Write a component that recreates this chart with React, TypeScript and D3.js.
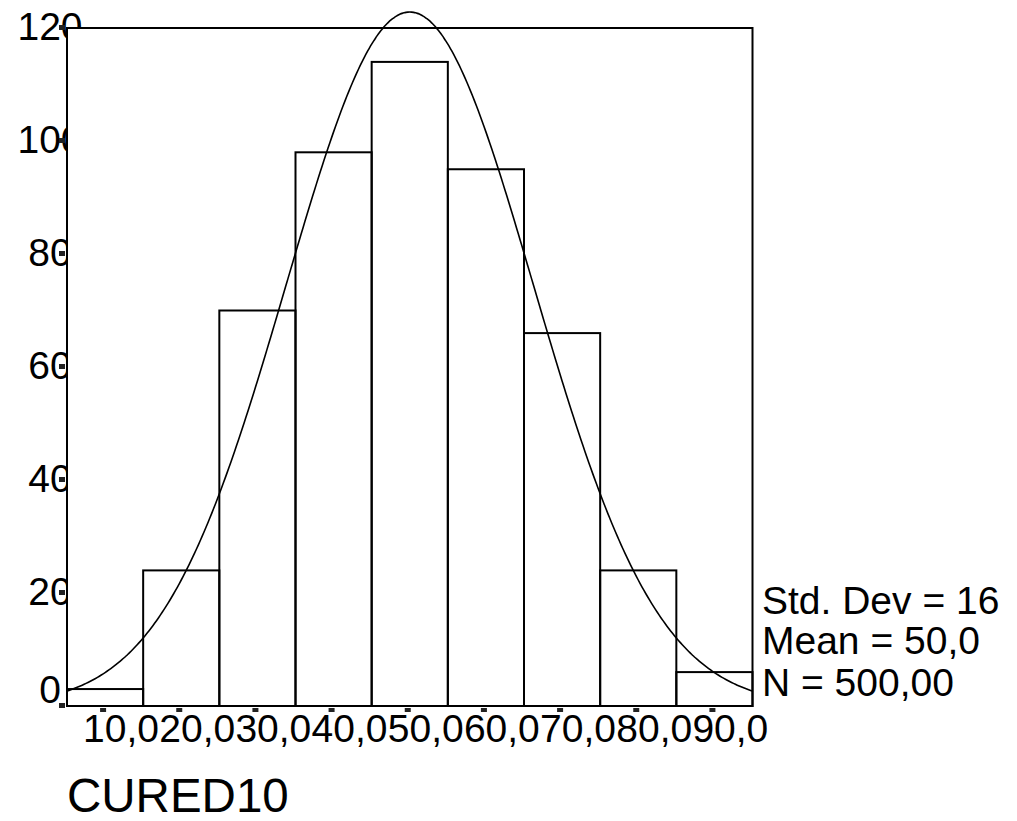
import React from "react";
import * as d3 from "d3";

// ---- data ----
const binCenters = [10, 20, 30, 40, 50, 60, 70, 80, 90];
const binCounts = [3, 24, 70, 98, 114, 95, 66, 24, 6];
const binWidth = 10;
const xTickLabels = ["10,0", "20,0", "30,0", "40,0", "50,0", "60,0", "70,0", "80,0", "90,0"];
const yTicks = [0, 20, 40, 60, 80, 100, 120];
const yTickLabels = ["0", "20", "40", "60", "80", "100", "120"];
const curveMean = 50;
const curveStdDev = 16.24;
const curveN = 500;
const statLines = ["Std. Dev = 16", "Mean = 50,0", "N = 500,00"];
const axisTitle = "CURED10";

const FONT = "'Liberation Sans', Arial, sans-serif";

export default function App() {
  const W = 1017;
  const H = 821;
  const left = 67;
  const right = 752.5;
  const top = 28;
  const bottom = 706;

  const x = d3.scaleLinear().domain([5, 95]).range([left, right]);
  const y = d3.scaleLinear().domain([0, 120]).range([bottom, top]);

  const density = (v: number) =>
    (curveN * binWidth) / (curveStdDev * Math.sqrt(2 * Math.PI)) *
    Math.exp(-0.5 * ((v - curveMean) / curveStdDev) ** 2);

  const curvePts = d3.range(5, 95.001, 0.25).map((v) => [v, density(v)] as [number, number]);
  const line = d3
    .line<[number, number]>()
    .x((d) => x(d[0]))
    .y((d) => y(d[1]))
    .curve(d3.curveBasis);

  return (
    <svg
      width={W}
      height={H}
      style={{ position: "absolute", left: 0, top: 0, background: "#fff" }}
      fontFamily={FONT}
    >
      <rect x={0} y={0} width={W} height={H} fill="#fff" />
      {/* y tick labels (partly hidden behind plot area, like the original) */}
      {yTicks.map((t, i) => (
        <text
          key={"yl" + t}
          x={50}
          y={Math.min(y(t) + 12, bottom - 3)}
          fontSize={39}
          textAnchor="middle"
          fill="#000"
        >
          {yTickLabels[i]}
        </text>
      ))}
      {/* plot area */}
      <rect x={left} y={top} width={right - left} height={bottom - top} fill="#fff" stroke="#000" strokeWidth={2} />
      {/* bars */}
      {binCenters.map((c, i) => (
        <rect
          key={"b" + c}
          x={x(c - binWidth / 2)}
          y={y(binCounts[i])}
          width={x(c + binWidth / 2) - x(c - binWidth / 2)}
          height={bottom - y(binCounts[i])}
          fill="none"
          stroke="#000"
          strokeWidth={2}
        />
      ))}
      {/* normal curve */}
      <path d={line(curvePts) || ""} fill="none" stroke="#000" strokeWidth={1.6} />
      {/* y tick marks */}
      {yTicks.map((t) => (
        <rect key={"yt" + t} x={59} y={y(t) - 3} width={6} height={5} fill="#222" />
      ))}
      {/* x tick marks */}
      {binCenters.map((c) => (
        <rect key={"xt" + c} x={x(c) - 5} y={bottom + 2} width={6} height={4} fill="#222" />
      ))}
      {/* x tick labels */}
      {binCenters.map((c, i) => (
        <text key={"xl" + c} x={x(c) - 22} y={742} fontSize={39} fill="#000">
          {xTickLabels[i]}
        </text>
      ))}
      {/* axis title */}
      <text x={67} y={812} fontSize={47.5} fill="#000">
        {axisTitle}
      </text>
      {/* stats */}
      {statLines.map((s, i) => (
        <text key={s} x={762} y={[614, 654, 696][i]} fontSize={39} fill="#000">
          {s}
        </text>
      ))}
    </svg>
  );
}
